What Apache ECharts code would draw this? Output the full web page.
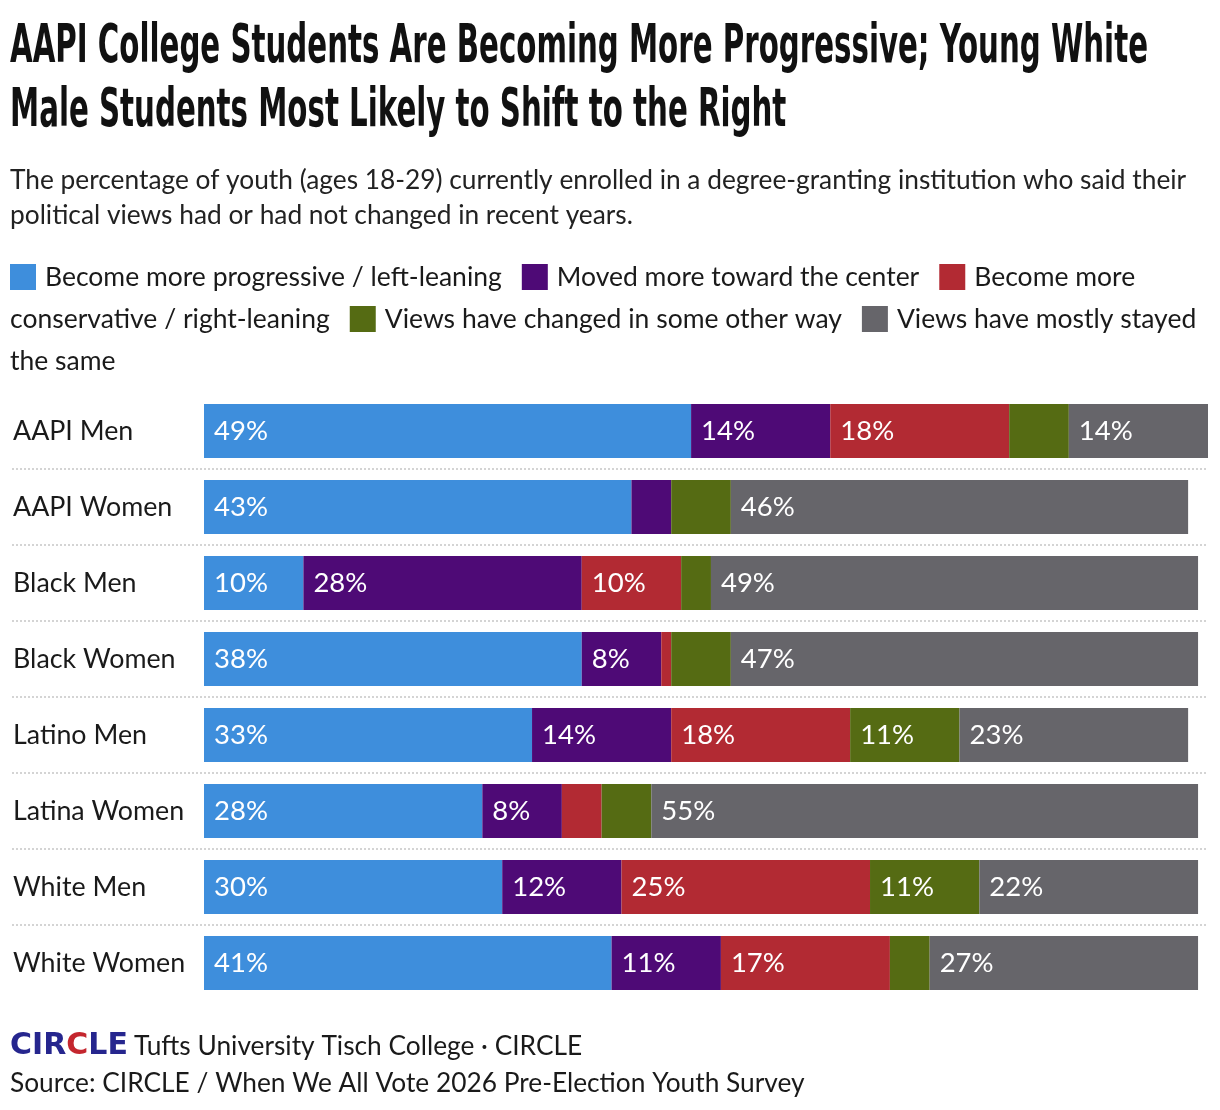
<!DOCTYPE html>
<html>
<head>
<meta charset="utf-8">
<script src="https://cdn.jsdelivr.net/npm/echarts@6/dist/echarts.min.js"></script>
<style>
html,body{margin:0;padding:0;background:#fff;}
#chart{width:1220px;height:1110px;}
</style>
</head>
<body>
<div id="chart"></div>
<script>
// ---- data ----
const categories = ['AAPI Men','AAPI Women','Black Men','Black Women','Latino Men','Latina Women','White Men','White Women'];
const seriesNames = [
  'Become more progressive / left-leaning',
  'Moved more toward the center',
  'Become more conservative / right-leaning',
  'Views have changed in some other way',
  'Views have mostly stayed the same'
];
const progressive  = [49, 43, 10, 38, 33, 28, 30, 41];
const center       = [14,  4, 28,  8, 14,  8, 12, 11];
const conservative = [18,  0, 10,  1, 18,  4, 25, 17];
const otherWay     = [ 6,  6,  3,  6, 11,  5, 11,  4];
const stayedSame   = [14, 46, 49, 47, 23, 55, 22, 27];
const colors = ['#3e8edc', '#4e0a76', '#b22a33', '#556b13', '#66656a'];

const titleLines = [
  'AAPI College Students Are Becoming More Progressive; Young White',
  'Male Students Most Likely to Shift to the Right'
];
const subtitle = 'The percentage of youth (ages 18-29) currently enrolled in a degree-granting institution who said their\npolitical views had or had not changed in recent years.';
const sourceText = 'Source: CIRCLE / When We All Vote 2026 Pre-Election Youth Survey';
const orgText = 'Tufts University Tisch College · CIRCLE';

// ---- build ----
const allSeries = [progressive, center, conservative, otherWay, stayedSame];
const totals = categories.map((_, i) => allSeries.reduce((s, arr) => s + arr[i], 0));
const xMax = Math.max(...totals);

const TXT = '#1a1a1a';
const BODY_FONT = 'Lato, "Noto Sans", sans-serif';
const TITLE_FONT_CSS = 'bold 54px "Liberation Sans Narrow", "DejaVu Sans Condensed", sans-serif';

// condense title horizontally to match the reference width
const cv = document.createElement('canvas').getContext('2d');
cv.font = TITLE_FONT_CSS;
const titleScale = 1138 / cv.measureText(titleLines[0]).width;

const chart = echarts.init(document.getElementById('chart'), null, {renderer: 'canvas'});

const legendRich = {
  t: {fontSize: 26.5, fontFamily: BODY_FONT, color: TXT, padding: [0, 20, 0, 9]},
  t0: {fontSize: 26.5, fontFamily: BODY_FONT, color: TXT, padding: [0, 20, 0, 0]}
};
colors.forEach((c, i) => { legendRich['b' + i] = {width: 26, height: 26, backgroundColor: c}; });
const legendText =
  '{b0|}{t|' + seriesNames[0] + '}{b1|}{t|' + seriesNames[1] + '}{b2|}{t|Become more}\n' +
  '{t0|conservative / right-leaning}{b3|}{t|' + seriesNames[3] + '}{b4|}{t|Views have mostly stayed}\n' +
  '{t0|the same}';

const option = {
  backgroundColor: '#fff',
  animation: false,
  title: [
    {
      text: subtitle, left: 10, top: 163, padding: 0,
      textStyle: {fontSize: 26.3, fontWeight: 'normal', fontFamily: BODY_FONT, color: '#222', lineHeight: 35}
    },
    {
      text: legendText, left: 10, top: 256, padding: 0,
      textStyle: {fontSize: 26.5, fontWeight: 'normal', fontFamily: BODY_FONT, color: TXT, lineHeight: 42, rich: legendRich}
    },
    {
      text: '{l1|CIR}{l2|C}{l1|LE}{f1|' + orgText + '}\n{f|' + sourceText + '}',
      left: 10, top: 1028, padding: 0,
      textStyle: {
        fontSize: 26.3, fontWeight: 'normal', fontFamily: BODY_FONT, color: TXT, lineHeight: 37,
        rich: {
          l1: {fontSize: 30, fontWeight: 'bold', fontFamily: '"DejaVu Sans", sans-serif', color: '#26268e'},
          l2: {fontSize: 30, fontWeight: 'bold', fontFamily: '"DejaVu Sans", sans-serif', color: '#c4262e'},
          f1: {fontSize: 26.3, fontFamily: BODY_FONT, color: TXT, padding: [0, 0, 0, 6]},
          f: {fontSize: 26.3, fontFamily: BODY_FONT, color: TXT}
        }
      }
    }
  ],
  graphic: [
    {
      type: 'text', x: 10, y: 16, scaleX: titleScale, scaleY: 1,
      style: {text: titleLines.join('\n'), font: TITLE_FONT_CSS, fill: '#111', lineHeight: 64}
    }
  ],
  grid: {left: 204, right: 12, top: 393, height: 608, containLabel: false},
  xAxis: {
    type: 'value', min: 0, max: xMax, show: false
  },
  yAxis: {
    type: 'category', data: categories, inverse: true,
    axisLine: {show: false}, axisTick: {show: false}, splitLine: {show: false},
    axisLabel: {align: 'left', margin: 191, fontSize: 26.8, fontFamily: BODY_FONT, color: TXT}
  },
  series: allSeries.map((arr, i) => ({
    name: seriesNames[i],
    type: 'bar',
    stack: 'total',
    barWidth: 54,
    data: arr,
    itemStyle: {color: colors[i]},
    label: {
      show: true, position: 'insideLeft', distance: 10,
      fontSize: 27.5, fontFamily: BODY_FONT, color: '#fff',
      formatter: p => (p.value >= 8 ? p.value + '%' : '')
    }
  }))
};
chart.setOption(option);

// dotted separators between rows, positioned from the category scale
const xRight = chart.convertToPixel({xAxisIndex: 0}, xMax);
const seps = [];
for (let i = 0; i < categories.length - 1; i++) {
  const y = (chart.convertToPixel({yAxisIndex: 0}, i) + chart.convertToPixel({yAxisIndex: 0}, i + 1)) / 2;
  seps.push({
    type: 'line', silent: true,
    shape: {x1: 12, y1: y, x2: xRight, y2: y},
    style: {stroke: '#d4d4d4', lineWidth: 2, lineDash: [2, 2]}
  });
}
chart.setOption({graphic: option.graphic.concat(seps)});
</script>
</body>
</html>
